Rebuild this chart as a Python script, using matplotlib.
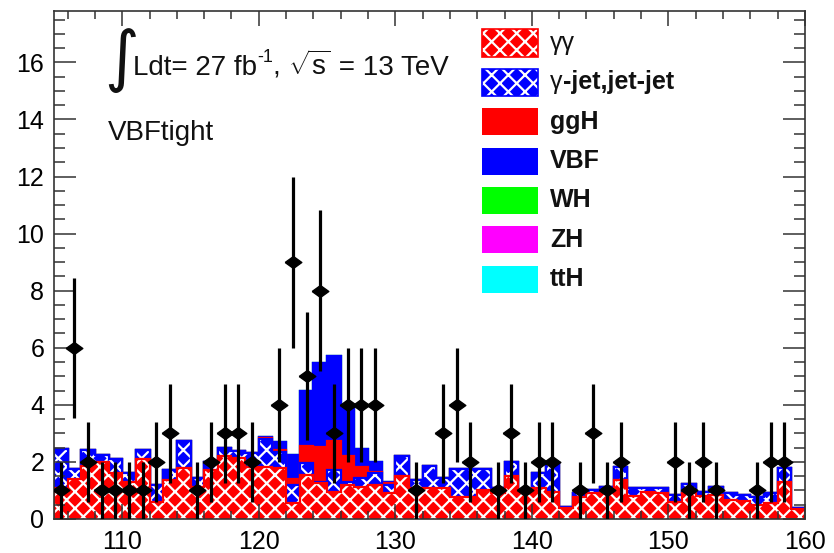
import numpy as np
import matplotlib.pyplot as plt
from matplotlib.patches import Rectangle
from matplotlib.ticker import MultipleLocator

plt.rcParams['font.family'] = ['Liberation Sans', 'DejaVu Sans']
plt.rcParams['mathtext.fontset'] = 'custom'
plt.rcParams['mathtext.rm'] = 'Liberation Sans'
plt.rcParams['mathtext.it'] = 'Liberation Sans:italic'
plt.rcParams['mathtext.bf'] = 'Liberation Sans:bold'
plt.rcParams['hatch.linewidth'] = 1.6

# 1 GeV bins, m_yy from 105 to 160
edges = np.arange(105, 161, 1)

# per-bin contributions (events)
yy = [1.10, 1.40, 1.85, 2.00, 1.60, 1.30, 2.09, 0.61, 1.37, 1.78,
      1.13, 1.70, 2.21, 2.12, 1.81, 1.81, 1.80, 0.55, 1.54, 1.25,
      0.96, 1.19, 1.13, 1.19, 0.90, 1.49, 1.10, 1.08, 1.08, 0.78,
      0.78, 1.02, 0.90, 1.49, 0.90, 1.08, 0.96, 0.40, 0.76, 0.90,
      0.96, 1.37, 0.80, 0.96, 0.90, 0.61, 0.90, 0.80, 0.84, 0.67,
      0.64, 0.49, 0.57, 1.31, 0.35]
gjet = [1.35, 0.35, 0.55, 0.25, 0.50, 0.30, 0.33, 0.58, 0.33, 0.96,
        0.30, 0.28, 0.27, 0.27, 0.49, 1.01, 0.55, 0.65, 0.41, 0.06,
        0.76, 0.12, 0.30, 0.41, 0.30, 0.72, 0.27, 0.78, 0.35, 0.96,
        0.96, 0.72, 0.18, 0.52, 0.12, 0.52, 0.99, 0.03, 0.14, 0.12,
        0.17, 0.44, 0.28, 0.14, 0.18, 0.23, 0.32, 0.16, 0.29, 0.23,
        0.20, 0.29, 0.35, 0.47, 0.05]
ggh = [0]*15 + [0.02, 0.06, 0.20, 0.60, 1.23, 1.00, 0.88, 0.40, 0.06, 0.05] + [0]*30
vbf = [0]*15 + [0.05, 0.30, 0.85, 1.95, 2.92, 3.00, 1.75, 0.64, 0.35, 0.05] + [0]*30
wh = [0]*55
zh = [0]*55
tth = [0]*55

data = [1, 6, 2, 1, 1, 1, 1, 2, 3, 0,
        1, 2, 3, 3, 2, 0, 4, 9, 5, 8,
        3, 4, 4, 4, 0, 0, 1, 0, 3, 4,
        2, 0, 1, 3, 1, 2, 2, 0, 1, 3,
        1, 2, 0, 0, 0, 2, 1, 2, 1, 0,
        0, 1, 2, 2, 0]

labels = ['\u03b3\u03b3', '-jet,jet-jet', 'ggH', 'VBF', 'WH', 'ZH', 'ttH']
fills = ['#ff0000', '#0000ff', '#ff0000', '#0000ff', '#00ff00', '#ff00ff', '#00ffff']
hatched = [True, True, False, False, False, False, False]

fig = plt.figure(figsize=(8.34, 5.53), dpi=100)
ax = fig.add_axes([0.0647, 0.0615, 0.9005, 0.9186])

comps = np.array([yy, gjet, ggh, vbf, wh, zh, tth])
cum = np.cumsum(comps, axis=0)

# THStack style: draw totals from the top down, each filled from zero
for i in range(len(comps) - 1, -1, -1):
    if hatched[i]:
        ax.stairs(cum[i], edges, fill=True, facecolor=fills[i], edgecolor='white',
                  hatch='xx', linewidth=0)
    else:
        ax.stairs(cum[i], edges, fill=True, facecolor=fills[i], linewidth=0)
    ax.stairs(cum[i], edges, color=fills[i], linewidth=1.6)

centers = 0.5 * (edges[:-1] + edges[1:])
d = np.array(data, dtype=float)
m = d > 0
diamond = [(-1, 0), (0, 0.72), (1, 0), (0, -0.72), (-1, 0)]
ax.errorbar(centers[m], d[m], yerr=np.sqrt(d[m]), fmt='none', ecolor='black',
            elinewidth=2.3, capsize=0, zorder=5)
ax.plot(centers[m], d[m], linestyle='none', marker=diamond, ms=12,
        color='black', zorder=6)

ax.set_xlim(105, 160)
ax.set_ylim(0, 17.8)
ax.xaxis.set_major_locator(MultipleLocator(10))
ax.xaxis.set_minor_locator(MultipleLocator(2))
ax.yaxis.set_major_locator(MultipleLocator(2))
ax.yaxis.set_minor_locator(MultipleLocator(0.5))
ax.set_axisbelow(False)
ax.tick_params(which='both', direction='in', top=True, right=True,
               width=1.1, labelsize=18, color='#333333')
ax.tick_params(axis='x', which='major', length=11, pad=8)
ax.tick_params(axis='x', which='minor', length=5.5)
ax.tick_params(axis='y', which='major', length=16, pad=7)
ax.tick_params(axis='y', which='minor', length=8)
for s in ax.spines.values():
    s.set_linewidth(1.2)
    s.set_color('#333333')

# lumi label, pieced together like TLatex
renderer = fig.canvas.get_renderer()
tc = '#111111'
fig.text(104 / 834, 1 - 60 / 553, '\u222b', fontsize=48, family='DejaVu Sans',
         va='center', ha='left', color=tc)
base = 1 - 75 / 553
x0 = 133 / 834
pieces = [('Ldt= 27 fb', 20, 0), ('-1', 13, 13 / 553), (', ', 20, 0),
          (r'$\sqrt{\mathrm{s}}$', 20, 0), (' = 13 TeV', 20, 0)]
for txt, fs, dy in pieces:
    t = fig.text(x0, base + dy, txt, fontsize=fs, va='baseline', ha='left', color=tc)
    bb = t.get_window_extent(renderer=renderer)
    x0 += bb.width / 834
fig.text(108 / 834, 1 - 140 / 553, 'VBFtight', fontsize=20, va='baseline',
         ha='left', color=tc)

# legend drawn by hand, ROOT TLegend look
row_y = [43, 82, 122, 161, 200, 240, 279]
for i in range(len(labels)):
    yc = row_y[i]
    box = (482 / 834, 1 - (yc + 13.5) / 553)
    if hatched[i]:
        fig.patches.append(Rectangle(box, 56 / 834, 27 / 553, transform=fig.transFigure,
                                     facecolor=fills[i], edgecolor='white', hatch='xx',
                                     linewidth=0))
        fig.patches.append(Rectangle(box, 56 / 834, 27 / 553, transform=fig.transFigure,
                                     fill=False, edgecolor=fills[i], linewidth=1.2))
    else:
        fig.patches.append(Rectangle(box, 56 / 834, 27 / 553, transform=fig.transFigure,
                                     facecolor=fills[i], linewidth=0))
    if i == 0:
        fig.text(550 / 834, 1 - yc / 553, labels[i], fontsize=18, va='center',
                 ha='left', color=tc)
    elif i == 1:
        g = fig.text(550 / 834, 1 - yc / 553, '\u03b3', fontsize=18, va='center',
                     ha='left', color=tc)
        gw = g.get_window_extent(renderer=renderer).width
        fig.text((550 + gw) / 834, 1 - yc / 553, labels[i], fontsize=18,
                 fontweight='bold', va='center', ha='left', color=tc)
    else:
        fig.text(550 / 834, 1 - yc / 553, labels[i], fontsize=18, fontweight='bold',
                 va='center', ha='left', color=tc)

fig.savefig('out.png', dpi=100)
